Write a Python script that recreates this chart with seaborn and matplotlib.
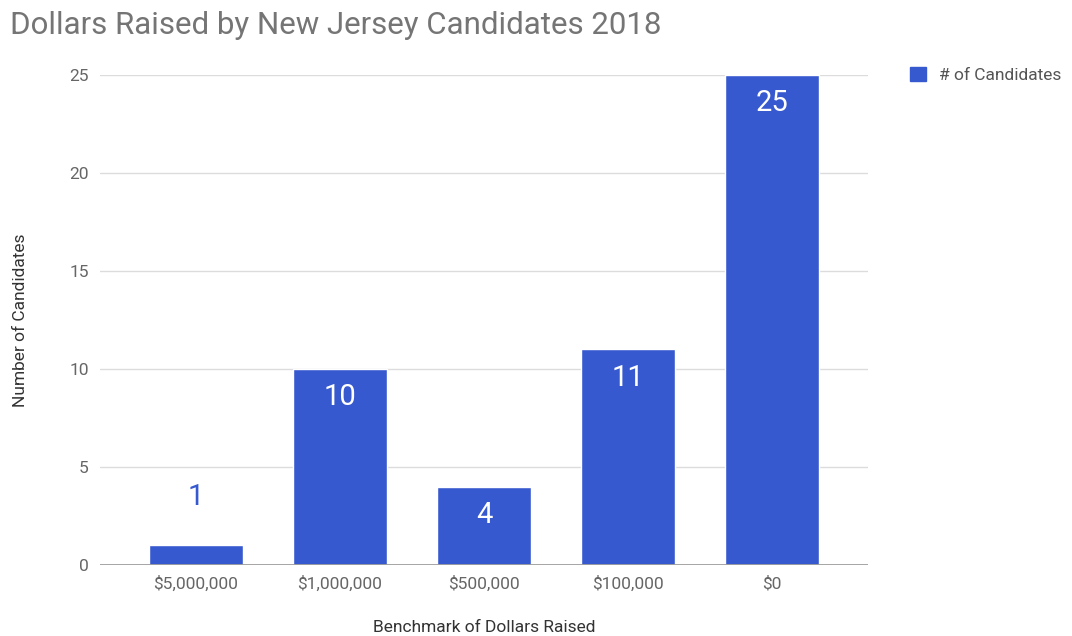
import matplotlib
matplotlib.use("Agg")
import matplotlib.pyplot as plt
import seaborn as sns
import pandas as pd
from matplotlib.patches import Patch

categories = ["$5,000,000", "$1,000,000", "$500,000", "$100,000", "$0"]
candidates = [1, 10, 4, 11, 25]
yticks = [0, 5, 10, 15, 20, 25]

BLUE = "#3759CF"
sns.set_theme(style="white")
plt.rcParams["font.family"] = ["Roboto", "DejaVu Sans"]

df = pd.DataFrame({"Benchmark": categories, "Count": candidates})

fig = plt.figure(figsize=(10.72, 6.36), dpi=100)
ax = fig.add_axes([100 / 1072, 1 - 565 / 636, 768 / 1072, 490 / 636])

sns.barplot(data=df, x="Benchmark", y="Count", color=BLUE, saturation=1,
            width=0.65, ax=ax, zorder=3)

ax.set_xlim(-0.667, 4.667)
ax.set_ylim(0, 25)
ax.set_yticks(yticks)
ax.set_yticklabels([str(t) for t in yticks])
for t in yticks[1:]:
    ax.axhline(t, color="#dcdcdc", lw=1, zorder=1)
ax.axhline(0, color="#9e9e9e", lw=1.3, zorder=4)
for s in ax.spines.values():
    s.set_visible(False)
ax.tick_params(axis="both", length=0, labelsize=12.5, colors="#666666")
ax.tick_params(axis="y", pad=8)
ax.tick_params(axis="x", pad=8)

ax.set_xlabel("Benchmark of Dollars Raised", fontsize=12.5, color="#333333", labelpad=20)
ax.set_ylabel("Number of Candidates", fontsize=12.5, color="#333333", labelpad=30)

for i, v in enumerate(candidates):
    if v >= 3:
        ax.annotate(str(v), xy=(i, v), xytext=(0, -20.5), textcoords="offset points",
                    ha="center", va="center", fontsize=21, color="white", zorder=5)
    else:
        ax.annotate(str(v), xy=(i, v), xytext=(0, 35), textcoords="offset points",
                    ha="center", va="center", fontsize=21, color=BLUE, zorder=5)

fig.text(10 / 1072, 1 - 25 / 636, "Dollars Raised by New Jersey Candidates 2018",
         fontsize=22.5, color="#757575", ha="left", va="center")

leg = fig.legend(handles=[Patch(facecolor=BLUE, edgecolor=BLUE, label="# of Candidates")],
                 loc="upper left", bbox_to_anchor=(903 / 1072, 1 - 60 / 636),
                 frameon=False, fontsize=12.5, handlelength=0.9, handleheight=0.9,
                 handletextpad=0.8, borderaxespad=0)
for t in leg.get_texts():
    t.set_color("#555555")

fig.savefig("out.png", dpi=100, facecolor="white")
